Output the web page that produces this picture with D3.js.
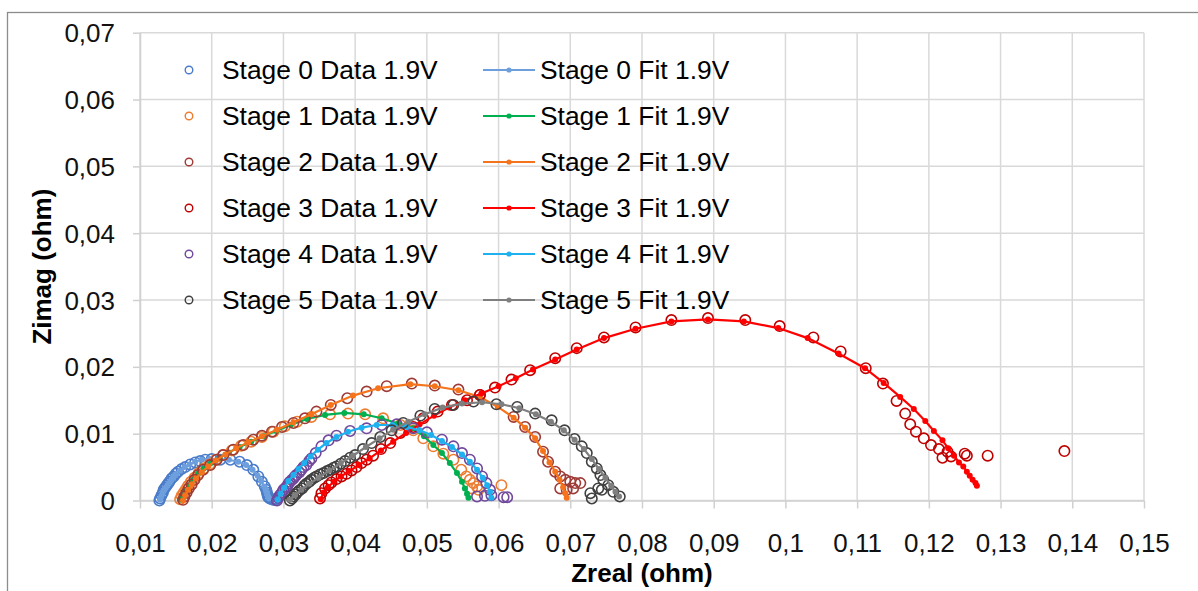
<!DOCTYPE html>
<html><head><meta charset="utf-8">
<script src="https://cdn.jsdelivr.net/npm/d3@7"></script>
<style>body{margin:0;background:#fff}svg{display:block;font-family:"Liberation Sans",Arial,sans-serif}</style>
</head><body>
<svg id="c" width="1198" height="591"></svg>
<script>
const xTicks=[0.01,0.02,0.03,0.04,0.05,0.06,0.07,0.08,0.09,0.1,0.11,0.12,0.13,0.14,0.15];
const yTicks=[0,0.01,0.02,0.03,0.04,0.05,0.06,0.07];
const dataNames=["Stage 0 Data 1.9V","Stage 1 Data 1.9V","Stage 2 Data 1.9V","Stage 3 Data 1.9V","Stage 4 Data 1.9V","Stage 5 Data 1.9V"];
const fitNames=["Stage 0 Fit 1.9V","Stage 1 Fit 1.9V","Stage 2 Fit 1.9V","Stage 3 Fit 1.9V","Stage 4 Fit 1.9V","Stage 5 Fit 1.9V"];
const dataColors=["#4a7cc9","#ed7d31","#9e3b36","#c00000","#70489c","#404040"];
const fitColors=["#6d9fde","#00b050","#f5731b","#ff0000","#1fb0ef","#7f7f7f"];

const stage0Data=[[0.0127,0.0000],[0.0128,0.0003],[0.0130,0.0008],[0.0132,0.0012],[0.0133,0.0016],[0.0135,0.0019],[0.0137,0.0022],[0.0139,0.0025],[0.0141,0.0028],[0.0144,0.0033],[0.0147,0.0036],[0.0150,0.0040],[0.0153,0.0043],[0.0158,0.0047],[0.0163,0.0050],[0.0170,0.0054],[0.0177,0.0057],[0.0184,0.0059],[0.0191,0.0061],[0.0200,0.0062],[0.0212,0.0061],[0.0226,0.0061],[0.0239,0.0058],[0.0249,0.0053],[0.0258,0.0046],[0.0265,0.0036],[0.0270,0.0028],[0.0274,0.0021],[0.0276,0.0016],[0.0277,0.0012],[0.0278,0.0008],[0.0279,0.0005],[0.0281,0.0003],[0.0284,0.0002],[0.0286,0.0001],[0.0288,0.0001],[0.0290,0.0002]];
const stage0Fit=[[0.0128,0.0001],[0.0129,0.0005],[0.0131,0.0009],[0.0132,0.0013],[0.0134,0.0016],[0.0136,0.0019],[0.0138,0.0022],[0.0140,0.0025],[0.0142,0.0028],[0.0144,0.0031],[0.0146,0.0034],[0.0148,0.0037],[0.0151,0.0040],[0.0156,0.0045],[0.0162,0.0050],[0.0169,0.0054],[0.0177,0.0058],[0.0186,0.0061],[0.0197,0.0062],[0.0210,0.0062],[0.0224,0.0061],[0.0237,0.0058],[0.0248,0.0053],[0.0257,0.0046],[0.0264,0.0037],[0.0269,0.0029],[0.0273,0.0021],[0.0275,0.0017],[0.0276,0.0014],[0.0277,0.0011],[0.0278,0.0008],[0.0279,0.0005],[0.0280,0.0003]];
const stage1Data=[[0.0156,0.0002],[0.0158,0.0007],[0.0161,0.0012],[0.0164,0.0017],[0.0167,0.0022],[0.0171,0.0028],[0.0176,0.0034],[0.0182,0.0041],[0.0189,0.0048],[0.0197,0.0054],[0.0206,0.0061],[0.0216,0.0068],[0.0228,0.0075],[0.0241,0.0082],[0.0255,0.0088],[0.0270,0.0095],[0.0286,0.0103],[0.0302,0.0111],[0.0319,0.0118],[0.0339,0.0125],[0.0365,0.0129],[0.0390,0.0130],[0.0414,0.0129],[0.0439,0.0123],[0.0463,0.0113],[0.0481,0.0105],[0.0495,0.0093],[0.0509,0.0081],[0.0523,0.0070],[0.0537,0.0061],[0.0548,0.0046],[0.0555,0.0036],[0.0560,0.0031],[0.0565,0.0026],[0.0570,0.0021],[0.0563,0.0018],[0.0572,0.0016],[0.0604,0.0023]];
const stage1Fit=[[0.0156,0.0001],[0.0159,0.0008],[0.0163,0.0015],[0.0168,0.0023],[0.0174,0.0031],[0.0181,0.0040],[0.0189,0.0048],[0.0199,0.0056],[0.0211,0.0064],[0.0224,0.0072],[0.0239,0.0080],[0.0255,0.0088],[0.0272,0.0096],[0.0290,0.0104],[0.0310,0.0113],[0.0333,0.0122],[0.0358,0.0128],[0.0385,0.0131],[0.0412,0.0129],[0.0437,0.0123],[0.0460,0.0115],[0.0481,0.0108],[0.0496,0.0096],[0.0509,0.0083],[0.0521,0.0071],[0.0532,0.0056],[0.0542,0.0041],[0.0549,0.0028],[0.0553,0.0018],[0.0556,0.0010],[0.0558,0.0004]];
const stage2Data=[[0.0160,0.0001],[0.0162,0.0006],[0.0165,0.0012],[0.0168,0.0018],[0.0172,0.0024],[0.0176,0.0031],[0.0181,0.0038],[0.0188,0.0046],[0.0198,0.0053],[0.0207,0.0061],[0.0216,0.0068],[0.0230,0.0076],[0.0244,0.0083],[0.0258,0.0091],[0.0270,0.0097],[0.0284,0.0103],[0.0298,0.0110],[0.0314,0.0116],[0.0330,0.0123],[0.0346,0.0133],[0.0366,0.0143],[0.0389,0.0153],[0.0416,0.0163],[0.0444,0.0171],[0.0479,0.0175],[0.0511,0.0172],[0.0544,0.0166],[0.0574,0.0158],[0.0621,0.0125],[0.0637,0.0110],[0.0651,0.0095],[0.0662,0.0073],[0.0669,0.0058],[0.0679,0.0043],[0.0686,0.0036],[0.0693,0.0031],[0.0700,0.0028],[0.0707,0.0026],[0.0714,0.0026],[0.0686,0.0018],[0.0695,0.0016],[0.0704,0.0018]];
const stage2Fit=[[0.0160,0.0000],[0.0163,0.0008],[0.0167,0.0016],[0.0172,0.0024],[0.0178,0.0033],[0.0186,0.0042],[0.0195,0.0051],[0.0206,0.0060],[0.0219,0.0069],[0.0234,0.0078],[0.0251,0.0087],[0.0270,0.0096],[0.0291,0.0106],[0.0314,0.0117],[0.0339,0.0129],[0.0366,0.0143],[0.0397,0.0157],[0.0432,0.0168],[0.0477,0.0174],[0.0511,0.0171],[0.0544,0.0165],[0.0574,0.0155],[0.0599,0.0140],[0.0621,0.0124],[0.0637,0.0109],[0.0651,0.0093],[0.0662,0.0074],[0.0671,0.0057],[0.0679,0.0043],[0.0685,0.0031],[0.0690,0.0020],[0.0693,0.0011],[0.0695,0.0004]];
const stage3Data=[[0.0351,0.0003],[0.0353,0.0011],[0.0358,0.0018],[0.0363,0.0023],[0.0367,0.0027],[0.0374,0.0032],[0.0381,0.0036],[0.0388,0.0040],[0.0395,0.0045],[0.0402,0.0050],[0.0409,0.0056],[0.0416,0.0061],[0.0425,0.0067],[0.0436,0.0077],[0.0449,0.0086],[0.0463,0.0101],[0.0481,0.0110],[0.0495,0.0123],[0.0515,0.0133],[0.0535,0.0143],[0.0556,0.0150],[0.0574,0.0158],[0.0595,0.0169],[0.0618,0.0181],[0.0644,0.0195],[0.0679,0.0213],[0.0709,0.0228],[0.0747,0.0244],[0.0791,0.0259],[0.0841,0.0270],[0.0892,0.0273],[0.0944,0.0270],[0.0992,0.0261],[0.1039,0.0244],[0.1077,0.0223],[0.1112,0.0198],[0.1136,0.0175],[0.1155,0.0149],[0.1167,0.0130],[0.1174,0.0114],[0.1182,0.0103],[0.1193,0.0093],[0.1203,0.0083],[0.1214,0.0077],[0.1226,0.0073],[0.1219,0.0064],[0.1231,0.0066],[0.1250,0.0070],[0.1253,0.0067],[0.1282,0.0067],[0.1389,0.0074]];
const stage3Fit=[[0.0352,0.0002],[0.0356,0.0012],[0.0362,0.0020],[0.0370,0.0028],[0.0380,0.0036],[0.0392,0.0044],[0.0405,0.0053],[0.0420,0.0063],[0.0436,0.0075],[0.0453,0.0088],[0.0471,0.0101],[0.0490,0.0114],[0.0510,0.0127],[0.0531,0.0139],[0.0553,0.0150],[0.0576,0.0160],[0.0600,0.0171],[0.0624,0.0183],[0.0648,0.0196],[0.0679,0.0211],[0.0709,0.0226],[0.0747,0.0243],[0.0791,0.0257],[0.0841,0.0268],[0.0892,0.0271],[0.0942,0.0268],[0.0990,0.0258],[0.1031,0.0243],[0.1074,0.0220],[0.1111,0.0198],[0.1137,0.0176],[0.1160,0.0155],[0.1179,0.0137],[0.1195,0.0119],[0.1207,0.0104],[0.1219,0.0090],[0.1227,0.0078],[0.1235,0.0067],[0.1242,0.0057],[0.1248,0.0051],[0.1253,0.0043],[0.1257,0.0037],[0.1261,0.0031],[0.1265,0.0026],[0.1267,0.0022]];
const stage4Data=[[0.0291,0.0000],[0.0293,0.0004],[0.0295,0.0008],[0.0298,0.0012],[0.0300,0.0016],[0.0303,0.0019],[0.0305,0.0021],[0.0307,0.0025],[0.0309,0.0028],[0.0312,0.0031],[0.0314,0.0033],[0.0316,0.0036],[0.0318,0.0038],[0.0322,0.0042],[0.0325,0.0046],[0.0328,0.0050],[0.0332,0.0053],[0.0336,0.0059],[0.0339,0.0063],[0.0345,0.0071],[0.0353,0.0081],[0.0363,0.0090],[0.0374,0.0097],[0.0393,0.0104],[0.0416,0.0108],[0.0437,0.0113],[0.0458,0.0114],[0.0481,0.0108],[0.0500,0.0102],[0.0521,0.0091],[0.0537,0.0081],[0.0549,0.0071],[0.0560,0.0061],[0.0570,0.0048],[0.0577,0.0036],[0.0583,0.0026],[0.0588,0.0016],[0.0590,0.0008],[0.0570,0.0006],[0.0581,0.0007],[0.0607,0.0005],[0.0612,0.0005]];
const stage4Fit=[[0.0292,0.0001],[0.0296,0.0010],[0.0301,0.0019],[0.0307,0.0029],[0.0314,0.0038],[0.0321,0.0047],[0.0329,0.0056],[0.0338,0.0066],[0.0348,0.0076],[0.0360,0.0086],[0.0374,0.0095],[0.0390,0.0103],[0.0409,0.0109],[0.0430,0.0113],[0.0452,0.0113],[0.0472,0.0110],[0.0490,0.0105],[0.0506,0.0098],[0.0521,0.0089],[0.0535,0.0080],[0.0549,0.0069],[0.0560,0.0058],[0.0570,0.0046],[0.0578,0.0034],[0.0584,0.0023],[0.0588,0.0013],[0.0590,0.0004]];
const stage5Data=[[0.0309,0.0000],[0.0312,0.0003],[0.0314,0.0006],[0.0317,0.0009],[0.0319,0.0012],[0.0322,0.0015],[0.0326,0.0018],[0.0329,0.0022],[0.0332,0.0025],[0.0336,0.0028],[0.0339,0.0031],[0.0343,0.0034],[0.0346,0.0036],[0.0351,0.0039],[0.0356,0.0041],[0.0361,0.0044],[0.0365,0.0046],[0.0370,0.0049],[0.0374,0.0051],[0.0380,0.0055],[0.0386,0.0059],[0.0393,0.0064],[0.0400,0.0068],[0.0411,0.0077],[0.0423,0.0086],[0.0435,0.0095],[0.0451,0.0105],[0.0467,0.0116],[0.0491,0.0127],[0.0511,0.0137],[0.0537,0.0143],[0.0565,0.0148],[0.0597,0.0144],[0.0626,0.0140],[0.0651,0.0130],[0.0674,0.0120],[0.0692,0.0105],[0.0706,0.0092],[0.0716,0.0081],[0.0723,0.0071],[0.0730,0.0058],[0.0737,0.0048],[0.0742,0.0038],[0.0746,0.0031],[0.0753,0.0023],[0.0760,0.0013],[0.0769,0.0006],[0.0728,0.0011],[0.0730,0.0003],[0.0739,0.0018],[0.0744,0.0016]];
const stage5Fit=[[0.0309,0.0001],[0.0316,0.0008],[0.0325,0.0016],[0.0336,0.0025],[0.0349,0.0034],[0.0364,0.0045],[0.0380,0.0056],[0.0397,0.0067],[0.0415,0.0080],[0.0434,0.0093],[0.0453,0.0106],[0.0474,0.0118],[0.0497,0.0129],[0.0522,0.0139],[0.0549,0.0145],[0.0577,0.0147],[0.0604,0.0144],[0.0629,0.0138],[0.0652,0.0129],[0.0673,0.0118],[0.0691,0.0105],[0.0706,0.0091],[0.0719,0.0077],[0.0730,0.0062],[0.0740,0.0047],[0.0749,0.0034],[0.0757,0.0022],[0.0763,0.0013],[0.0768,0.0006]];

const dataSeries=[stage0Data,stage1Data,stage2Data,stage3Data,stage4Data,stage5Data];
const fitSeries=[stage0Fit,stage1Fit,stage2Fit,stage3Fit,stage4Fit,stage5Fit];

const svg=d3.select("#c");
const L=140,R=1144,T=32.7,B=500.5;
const x=d3.scaleLinear().domain([0.01,0.15]).range([L,R]);
const y=d3.scaleLinear().domain([0,0.07]).range([B,T]);
const fmt=v=>String(+v.toFixed(2)).replace(".",",");

// outer chart border
svg.append("rect").attr("x",7.5).attr("y",12.5).attr("width",1200).attr("height",600)
  .attr("fill","none").attr("stroke","#8c8c8c").attr("stroke-width",1.3);

// gridlines
const grid=svg.append("g").attr("stroke","#d9d9d9").attr("stroke-width",1.5);
grid.selectAll("line.v").data(xTicks).join("line").attr("class","v")
  .attr("x1",d=>x(d)).attr("x2",d=>x(d)).attr("y1",T).attr("y2",B);
grid.selectAll("line.h").data(yTicks).join("line").attr("class","h")
  .attr("x1",L).attr("x2",R).attr("y1",d=>y(d)).attr("y2",d=>y(d));

// axes
const gx=svg.append("g").attr("transform",`translate(0,${B})`)
  .call(d3.axisBottom(x).tickValues(xTicks).tickFormat(fmt).tickSizeInner(8).tickSizeOuter(0));
gx.select(".domain").attr("stroke","#d0d0d0").attr("stroke-width",1.5);
gx.selectAll(".tick line").attr("stroke","#d0d0d0").attr("stroke-width",1.5);
gx.selectAll(".tick text").attr("y",51).attr("dy",null).attr("font-size",26).attr("fill","#111");

const gy=svg.append("g").attr("transform",`translate(${L},0)`)
  .call(d3.axisLeft(y).tickValues(yTicks).tickFormat(fmt).tickSizeInner(7).tickSizeOuter(0));
gy.select(".domain").attr("stroke","#d0d0d0").attr("stroke-width",1.5);
gy.selectAll(".tick line").attr("stroke","#d0d0d0").attr("stroke-width",1.5);
gy.selectAll(".tick text").attr("x",-25).attr("dy","0.35em").attr("font-size",26).attr("fill","#111");

// axis titles
svg.append("text").attr("x",(L+R)/2).attr("y",582).attr("text-anchor","middle")
  .attr("font-size",26).attr("font-weight","bold").attr("fill","#000").text("Zreal (ohm)");
svg.append("text").attr("transform",`translate(51,${(T+B)/2}) rotate(-90)`).attr("text-anchor","middle")
  .attr("font-size",26).attr("font-weight","bold").attr("fill","#000").text("Zimag (ohm)");

// series
const line=d3.line().x(d=>x(d[0])).y(d=>y(d[1]));
const plot=svg.append("g");
for(let i=0;i<6;i++){
  plot.append("g").selectAll("circle").data(dataSeries[i]).join("circle")
    .attr("cx",d=>x(d[0])).attr("cy",d=>y(d[1])).attr("r",5.2)
    .attr("fill","none").attr("stroke",dataColors[i]).attr("stroke-width",1.6);
  const gf=plot.append("g");
  gf.append("path").datum(fitSeries[i]).attr("d",line).attr("fill","none")
    .attr("stroke",fitColors[i]).attr("stroke-width",2.2);
  gf.selectAll("circle").data(fitSeries[i]).join("circle")
    .attr("cx",d=>x(d[0])).attr("cy",d=>y(d[1])).attr("r",3).attr("fill",fitColors[i]);
}

// legend
const rowY=i=>70+i*46;
const leg=svg.append("g").attr("font-size",26.4).attr("fill","#000");
dataNames.forEach((n,i)=>{
  leg.append("circle").attr("cx",189).attr("cy",rowY(i)).attr("r",3.8)
    .attr("fill","none").attr("stroke",dataColors[i]).attr("stroke-width",1.4);
  leg.append("text").attr("x",222).attr("y",rowY(i)+9.3).text(n);
});
fitNames.forEach((n,i)=>{
  leg.append("line").attr("x1",483).attr("x2",535).attr("y1",rowY(i)).attr("y2",rowY(i))
    .attr("stroke",fitColors[i]).attr("stroke-width",2.2);
  leg.append("circle").attr("cx",509).attr("cy",rowY(i)).attr("r",2.6).attr("fill",fitColors[i]);
  leg.append("text").attr("x",540).attr("y",rowY(i)+9.3).text(n);
});
</script>
</body></html>
